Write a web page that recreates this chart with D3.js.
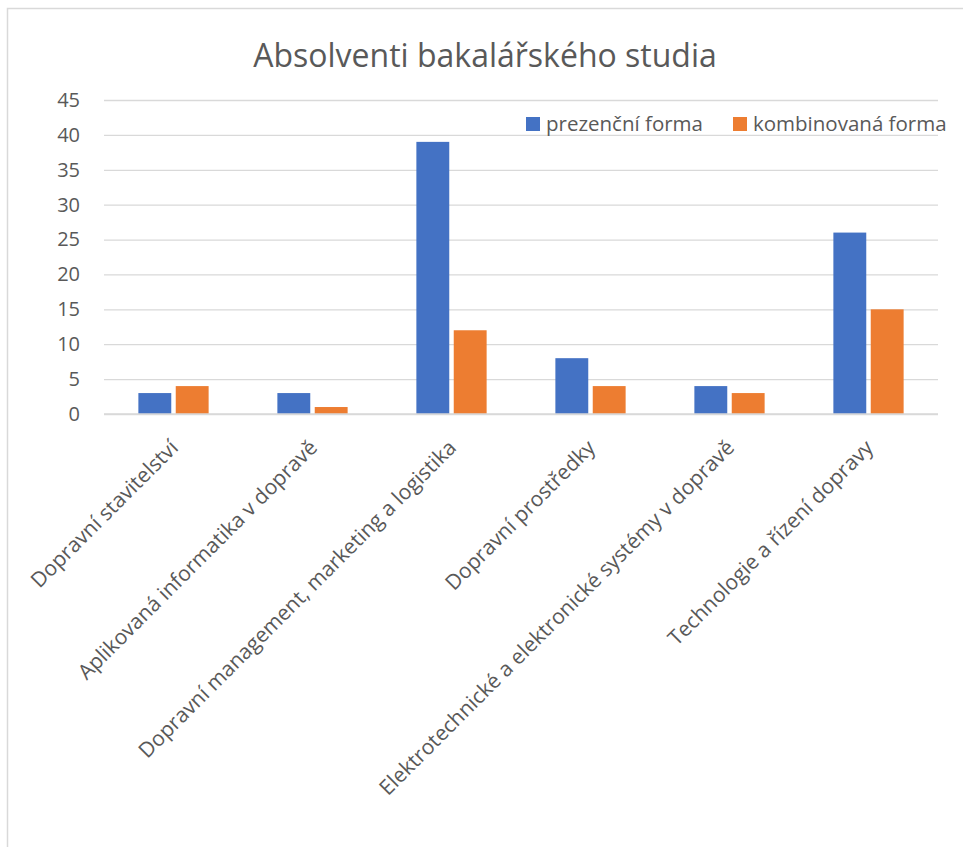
<!DOCTYPE html>
<html>
<head>
<meta charset="utf-8">
<script src="https://cdn.jsdelivr.net/npm/d3@7"></script>
<style>
	body { margin: 0; background: #fff; }
</style>
</head>
<body>
<div id="chart"></div>
<script>
const categories = [
	'Dopravní stavitelství',
	'Aplikovaná informatika v dopravě',
	'Dopravní management, marketing a logistika',
	'Dopravní prostředky',
	'Elektrotechnické a elektronické systémy v dopravě',
	'Technologie a řízení dopravy',
];
const series_names = ['prezenční forma', 'kombinovaná forma'];
const prezencni = [3, 3, 39, 8, 4, 26];
const kombinovana = [4, 1, 12, 4, 3, 15];
const y_ticks = [0, 5, 10, 15, 20, 25, 30, 35, 40, 45];
const colors = ['#4472c4', '#ed7d31'];

const width = 963, height = 847;
const margin = {left: 104, right: 25, top: 100, bottom: 433};
const label_font = "'Open Sans', 'Noto Sans', sans-serif";

var svg = d3.select('#chart').append('svg')
	.attr('width', width)
	.attr('height', height)

// chart frame
svg.append('rect')
	.attr('x', 7.5)
	.attr('y', 8.5)
	.attr('width', 980)
	.attr('height', 880)
	.attr('fill', 'white')
	.attr('stroke', '#d9d9d9')
	.attr('stroke-width', 1.5)

svg.append('text')
	.attr('x', 485)
	.attr('y', 67)
	.attr('text-anchor', 'middle')
	.style('font-family', label_font)
	.style('font-size', '32px')
	.style('fill', '#595959')
	.text('Absolventi bakalářského studia')

var x = d3.scaleBand()
	.domain(categories)
	.range([margin.left, width - margin.right])
	.paddingInner(0.43)
	.paddingOuter(0.215)

var x1 = d3.scaleBand()
	.domain(series_names)
	.range([0, x.bandwidth()])
	.padding(0.12)

var y = d3.scaleLinear()
	.domain([0, 45])
	.range([height - margin.bottom, margin.top])

// gridlines
var yAxis = svg.append('g')
	.attr('transform', 'translate(' + margin.left + ',0)')
	.call(d3.axisLeft(y).tickValues(y_ticks).tickSize(-(width - margin.right - margin.left)).tickPadding(24))
yAxis.select('.domain').remove()
yAxis.selectAll('line')
	.attr('stroke', '#d9d9d9')
	.attr('stroke-width', 1.3)
yAxis.selectAll('text')
	.style('font-family', label_font)
	.style('font-size', '20px')
	.style('fill', '#595959')

// bars
var rows = categories.map((c, i) => ({cat: c, values: [prezencni[i], kombinovana[i]]}))
var groups = svg.append('g').selectAll('g')
	.data(rows)
	.join('g')
	.attr('transform', d => 'translate(' + x(d.cat) + ',0)')
groups.selectAll('rect')
	.data(d => d.values.map((v, j) => ({name: series_names[j], value: v, j: j})))
	.join('rect')
	.attr('x', d => x1(d.name))
	.attr('width', x1.bandwidth())
	.attr('y', d => y(d.value))
	.attr('height', d => y(0) - y(d.value))
	.attr('fill', d => colors[d.j])

// x axis line
svg.append('line')
	.attr('x1', margin.left)
	.attr('x2', width - margin.right)
	.attr('y1', y(0))
	.attr('y2', y(0))
	.attr('stroke', '#d9d9d9')
	.attr('stroke-width', 1.5)

// rotated category labels
svg.append('g').selectAll('text')
	.data(categories)
	.join('text')
	.attr('transform', d => 'translate(' + (x(d) + x.bandwidth() / 2 + 6) + ',' + (y(0) + 35) + ') rotate(-45)')
	.attr('text-anchor', 'end')
	.style('font-family', label_font)
	.style('font-size', '21px')
	.style('fill', '#595959')
	.text(d => d)

// legend
var legend = svg.append('g')
var legend_x = [526, 733]
series_names.forEach((name, i) => {
	legend.append('rect')
		.attr('x', legend_x[i])
		.attr('y', 117)
		.attr('width', 14)
		.attr('height', 14)
		.attr('fill', colors[i])
	legend.append('text')
		.attr('x', legend_x[i] + 20)
		.attr('y', 131)
		.style('font-family', label_font)
		.style('font-size', '20.5px')
		.style('fill', '#595959')
		.text(name)
})
</script>
</body>
</html>
